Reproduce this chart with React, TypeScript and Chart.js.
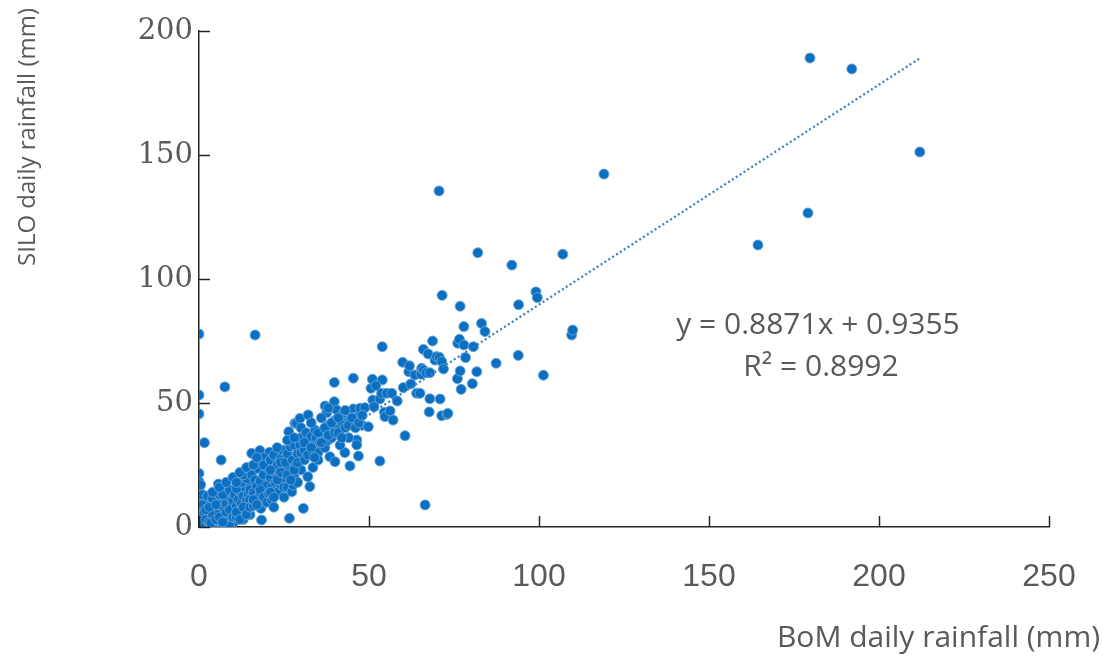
import React, { useEffect, useRef } from "react";
import { Chart, registerables } from "chart.js";

Chart.register(...registerables);

// BoM daily rainfall (x) vs SILO daily rainfall (y), mm
const points: [number, number][] = [
  // near-zero cluster
  [0, 0], [0.5, 1], [1, 0.5], [0, 2], [0, 3.5], [0.3, 5], [0, 6.5], [0.2, 8], [0, 9.5],
  [1, 2], [1.5, 3.5], [2, 1], [2, 5], [2.5, 2.5], [3, 0.5], [3, 4], [3.5, 6], [4, 2],
  [4, 8], [4.5, 3.5], [5, 1], [5, 5.5], [1, 7], [2, 9], [3, 10], [1.5, 11], [0, 12.5],
  [0, 21.6], [0, 18.3], [0, 14.9], [0, 10.9], [0.5, 17], [1, 13], [2.5, 12.5],
  [0, 77.8], [0, 53.2], [0, 45.6], [1.6, 34], [7.6, 56.5], [6.5, 27], [5.7, 17.3],
  [0, 1], [0, 4.5], [1, 9], [1.5, 6], [1, 1.5], [2, 3], [3, 2], [4, 5], [2, 7], [3, 8],
  // 5-10
  [5.5, 3], [6, 6.5], [6, 9], [6.5, 1.5], [7, 4.5], [7, 11], [7.5, 7.5], [8, 2.5],
  [8, 9.5], [8.5, 5.5], [9, 12], [9, 3.5], [9.5, 8], [10, 6], [10, 10.5], [10, 1.5],
  [4, 11.5], [6, 13], [8, 14], [3.5, 1.5], [7, 0.5], [9, 0.5],
  [5, 3], [6, 4], [7, 2], [8, 6], [9, 7], [10, 4], [5, 9], [7, 13], [9, 15], [4, 14],
  [6, 16], [8, 18], [10, 20],
  // 10-15
  [10.5, 13], [11, 4], [11, 8.5], [11.5, 11], [12, 14.5], [12, 6.5], [12.5, 9.5],
  [13, 3], [13, 12.5], [13.5, 16], [14, 7.5], [14, 10.5], [14.5, 13.5], [15, 5],
  [15, 17.5], [15, 11], [11, 15.5], [12.5, 18], [14, 19.5],
  [11, 6], [12, 3], [13, 8], [14, 5], [15, 8], [11, 18], [13, 21], [15, 15], [12, 22], [14, 24],
  // 15-20
  [15.5, 29.7], [15.5, 21], [16, 8.5], [16, 14], [16.5, 19], [16.5, 77.4], [17, 11.5],
  [17, 16.5], [17.5, 23.5], [18, 13], [18, 18.5], [18.2, 7.5], [18.4, 2.8], [18.5, 26],
  [19, 15.5], [19, 21], [19.5, 10], [20, 17], [20, 24], [17.9, 30.8], [20.7, 30.1],
  [16, 25], [19, 28], [16, 11], [17, 9], [18, 15], [19, 12], [20, 10], [17, 28], [19, 25],
  // 20-25
  [20.5, 13.5], [21, 20], [21, 27], [21.4, 10.9], [21.5, 16], [22, 22.5], [22, 29],
  [22.5, 18], [23, 14], [23, 25], [23.5, 20.5], [24, 27.5], [24, 17], [24.5, 31],
  [25, 22.5], [25, 12], [25, 19], [23, 32], [22, 8],
  [21, 14], [22, 12], [23, 19], [24, 22], [25, 16], [21, 23], [24, 26],
  // 25-30
  [25.5, 26], [26, 29.5], [26, 16], [26.4, 38.4], [26.6, 3.5], [26.8, 32.4], [27, 23],
  [27.3, 14.2], [27.5, 27], [27.7, 16.9], [28, 20], [28, 33], [28.2, 41.8], [28.5, 25],
  [28.7, 41.8], [29, 29.5], [29, 18], [29.7, 33.1], [29.7, 43.8], [30, 23], [30, 36],
  [26, 21], [27, 19], [28, 23], [29, 26], [30, 30], [26, 35], [28, 36], [30, 40],
  // 30-35
  [30.7, 7.5], [31, 27], [31, 31], [31.5, 38], [32, 34], [32, 20.3], [32.1, 45.2],
  [32.6, 16.3], [33, 29], [33, 36.5], [33.5, 24], [34, 33], [34.1, 39.1], [34.5, 36],
  [35, 30], [35, 27], [31, 34], [32, 29], [33, 32], [34, 28], [33, 42],
  // 35-40
  [35.5, 34], [36, 38], [36.6, 37.8], [37, 32], [37.1, 48.8], [37.6, 46.1], [38, 35],
  [38, 41], [38.5, 28.3], [39, 39.1], [39, 36], [39.8, 50.5], [39.8, 58.3], [40, 26.3],
  [40.5, 47.2], [40.5, 41.1], [40, 43], [35, 38], [36, 34], [37, 40], [38, 37], [39, 42],
  [40, 38], [36, 44], [38, 48],
  // 40-50
  [41, 38], [42, 42.5], [42.9, 30], [43.4, 44.5], [44.4, 43.4], [44.4, 24.6], [45.4, 47.6],
  [45.4, 60], [45.9, 44.2], [46.4, 35.1], [46.4, 33.1], [46.9, 28.6], [47.4, 45.2],
  [47.4, 47.9], [48, 41], [48.8, 48.1], [49.8, 40.4], [43, 40], [44, 36], [41.5, 33], [42.5, 46],
  [41, 44], [42, 36], [43, 47], [44, 41], [45, 44], [46, 40], [47, 42], [48, 45],
  // 50-60
  [50.6, 55.9], [51, 59.6], [51.1, 51.2], [53.2, 51.6], [53.2, 26.6], [53.7, 53.9],
  [53.9, 59.3], [53.9, 72.7], [54.5, 46.3], [54.7, 44.5], [55.2, 53.9], [56.2, 46.8],
  [56.7, 53.9], [57.1, 43.1], [58.3, 50.8], [59.9, 66.4], [51.5, 48.5], [52, 57],
  // 60-70
  [60.1, 56.2], [60.6, 36.8], [61.7, 62.6], [61.9, 65], [62.3, 57.7], [63.5, 61.3],
  [64, 53.9], [65, 53.9], [65.3, 61.6], [65.5, 64], [66, 71.6], [66, 63.3], [66.5, 8.9],
  [66.8, 62.2], [67.4, 69.8], [67.7, 46.4], [67.9, 51.7], [67.9, 62.2], [68.7, 75],
  [69.4, 67.3], [69.9, 68.7],
  // 70+
  [70.6, 135.5], [70.7, 68.4], [70.9, 51.6], [71.4, 44.9], [71.4, 66.7], [71.5, 93.4],
  [71.9, 63.7], [72.9, 45.4], [73.2, 45.8], [76, 59.8], [76.1, 74.1], [76.6, 75.7],
  [76.8, 89], [76.8, 62.9], [77.1, 55.5], [77.9, 80.8], [77.9, 73.4], [78.4, 68.3],
  [80.4, 57.8], [80.7, 72.7], [81.7, 62.6], [82, 110.6], [83.1, 82.1], [84.1, 78.8],
  [87.4, 66], [92, 105.6], [93.9, 69.2], [94, 89.6], [99.1, 94.8], [99.5, 92.5],
  [101.3, 61.2], [107, 110], [109.6, 77.4], [109.9, 79.4], [119.1, 142.3],
  [164.4, 113.7], [179.1, 126.6], [179.7, 189.1], [192, 184.7], [212, 151.2],
];

// linear trendline endpoints (y = 0.8871x + 0.9355)
const trendX = [0, 212];
const trendY = [0.94, 189.0];

const xTicks = [0, 50, 100, 150, 200, 250];
const yTicks = [0, 50, 100, 150, 200];

const xTitle = "BoM daily rainfall (mm)";
const yTitle = "SILO daily rainfall (mm)";
const eqLine1 = "y = 0.8871x + 0.9355";
const eqLine2 = "R² = 0.8992";

const textColor = "#595959";
const axisColor = "#262626";

export default function App() {
  const ref = useRef<HTMLCanvasElement | null>(null);

  useEffect(() => {
    if (!ref.current) return;

    const overlay = {
      id: "overlay",
      afterDraw(chart: any) {
        const ctx = chart.ctx;
        const { left, bottom } = chart.chartArea;
        const xs = chart.scales.x;
        const ys = chart.scales.y;
        ctx.save();
        ctx.strokeStyle = axisColor;
        ctx.lineWidth = 1.5;
        xTicks.forEach((v) => {
          const px = Math.round(xs.getPixelForValue(v)) + 0.5;
          ctx.beginPath();
          ctx.moveTo(px, bottom);
          ctx.lineTo(px, bottom - 11);
          ctx.stroke();
        });
        yTicks.forEach((v) => {
          const py = Math.round(ys.getPixelForValue(v)) + 0.5;
          ctx.beginPath();
          ctx.moveTo(left, py);
          ctx.lineTo(left + 11, py);
          ctx.stroke();
        });
        ctx.fillStyle = textColor;
        ctx.textBaseline = "middle";
        // equation
        ctx.font = '30px "Open Sans", "Noto Sans", sans-serif';
        ctx.textAlign = "center";
        ctx.fillText(eqLine1, 818, 325);
        ctx.fillText(eqLine2, 821, 367);
        // x title
        ctx.font = '30px "Open Sans", "Noto Sans", sans-serif';
        ctx.textAlign = "right";
        ctx.fillText(xTitle, 1100, 638);
        // y title
        ctx.translate(28, 137);
        ctx.rotate(-Math.PI / 2);
        ctx.font = '24px "Open Sans", "Noto Sans", sans-serif';
        ctx.textAlign = "center";
        ctx.fillText(yTitle, 0, 0);
        ctx.restore();
      },
    };

    const chart = new Chart(ref.current, {
      type: "scatter",
      data: {
        datasets: [
          {
            type: "line",
            label: "Trend",
            data: trendX.map((x, i) => ({ x, y: trendY[i] })),
            borderColor: "#3A7FC4",
            borderWidth: 2.2,
            borderDash: [2, 2.6],
            pointRadius: 0,
            fill: false,
            order: 0,
          } as any,
          {
            label: "Daily rainfall",
            data: points.map(([x, y]) => ({ x, y })),
            backgroundColor: "#0B70C1",
            borderColor: "#6AA5DA",
            borderWidth: 0.9,
            pointRadius: 5,
            order: 1,
          },
        ],
      },
      options: {
        responsive: false,
        animation: false,
        layout: { padding: { left: 0, top: 31, right: 62, bottom: 0 } },
        plugins: {
          legend: { display: false },
          tooltip: { enabled: false },
        },
        scales: {
          x: {
            type: "linear",
            min: 0,
            max: 250,
            afterBuildTicks: (s: any) => {
              s.ticks = xTicks.map((v) => ({ value: v }));
            },
            afterFit: (s: any) => {
              s.height = 139;
            },
            ticks: {
              color: textColor,
              padding: 31,
              font: { family: '"Liberation Sans Narrow", "Liberation Sans", sans-serif', size: 32 },
            },
            grid: { display: false, drawTicks: false },
            border: { display: true, color: axisColor, width: 1.5 },
          },
          y: {
            type: "linear",
            min: 0,
            max: 200,
            afterBuildTicks: (s: any) => {
              s.ticks = yTicks.map((v) => ({ value: v }));
            },
            afterFit: (s: any) => {
              s.width = 199;
            },
            ticks: {
              color: textColor,
              padding: 6,
              font: { family: '"DejaVu Serif", serif', size: 29 },
            },
            grid: { display: false, drawTicks: false },
            border: { display: true, color: axisColor, width: 1.5 },
          },
        },
      },
      plugins: [overlay],
    });

    return () => chart.destroy();
  }, []);

  return (
    <div style={{ position: "absolute", left: 0, top: 0, width: 1111, height: 666, background: "#fff" }}>
      <canvas ref={ref} width={1111} height={666} />
    </div>
  );
}
